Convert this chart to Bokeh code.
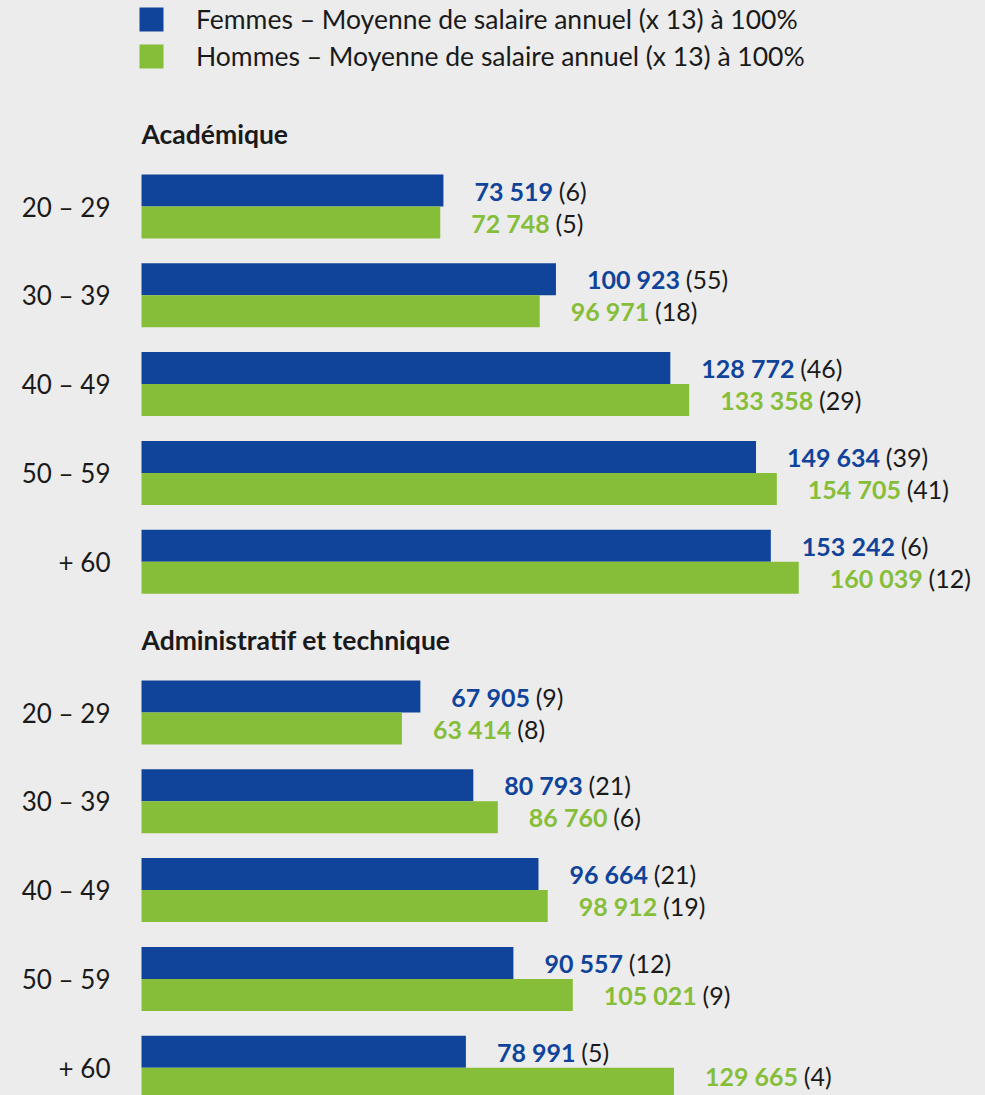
from bokeh.plotting import figure
from bokeh.models import ColumnDataSource, Range1d, Legend, LegendItem, GlobalInlineStyleSheet
from bokeh.core.properties import value
from bokeh.embed import file_html
from bokeh.resources import INLINE

# ---------------- data ----------------
age_groups = ["20 – 29", "30 – 39", "40 – 49", "50 – 59", "+ 60"]
sections = ["Académique", "Administratif et technique"]
legend_labels = [
    "Femmes – Moyenne de salaire annuel (x 13) à 100%",
    "Hommes – Moyenne de salaire annuel (x 13) à 100%",
]

acad_femmes = [73519, 100923, 128772, 149634, 153242]
acad_femmes_n = [6, 55, 46, 39, 6]
acad_hommes = [72748, 96971, 133358, 154705, 160039]
acad_hommes_n = [5, 18, 29, 41, 12]

adm_femmes = [67905, 80793, 96664, 90557, 78991]
adm_femmes_n = [9, 21, 21, 12, 5]
adm_hommes = [63414, 86760, 98912, 105021, 129665]
adm_hommes_n = [8, 6, 19, 9, 4]

# ---------------- style / layout ----------------
BG = "#ececec"
BLUE = "#10449a"
GREEN = "#86be39"
TXT = "#1a1a1a"
FONT = "Lato"

W, H = 985, 1095
X0_PX = 141          # pixel position of value 0
UPP = 243.5          # value units per pixel
BAR_H = 32
SPACING = 88.8
GROUP_FIRST = [206, 712]
TITLE_OFFSET = 73
LABEL_GAP = 31
VAL_SIZE = 25
CAT_SIZE = 26
LABEL_MAX_Y = H - 20   # labels are kept inside the canvas


def fmt(v):
    return f"{v:,}".replace(",", " ")


def bold_width(s, size):
    return sum(0.58 if ch.isdigit() else 0.193 for ch in s) * size


p = figure(
    width=W, height=H,
    x_range=Range1d(-X0_PX * UPP, (W - X0_PX) * UPP),
    y_range=Range1d(H, 0),
    toolbar_location=None, output_backend="svg",
    min_border=0, x_axis_location=None, y_axis_location=None,
    background_fill_color=BG, border_fill_color=BG, outline_line_color=None,
)
p.grid.visible = False
p.stylesheets = [GlobalInlineStyleSheet(css="body { background-color: #ececec; }")]

groups = [
    (acad_femmes, acad_femmes_n, acad_hommes, acad_hommes_n),
    (adm_femmes, adm_femmes_n, adm_hommes, adm_hommes_n),
]

legend_renderers = []
for gi, (fv, fn, hv, hn) in enumerate(groups):
    centers = [GROUP_FIRST[gi] + i * SPACING for i in range(len(age_groups))]
    for vals, ns, color, sign in ((fv, fn, BLUE, -1), (hv, hn, GREEN, 1)):
        ys = [c + sign * BAR_H / 2 for c in centers]
        labs = [fmt(v) for v in vals]
        src = ColumnDataSource(dict(
            y=ys, ly=[min(y, LABEL_MAX_Y) for y in ys], v=vals, lab=labs,
            n=[f"({n})" for n in ns],
            noff=[LABEL_GAP + bold_width(l, VAL_SIZE) + 7 for l in labs],
        ))
        r = p.hbar(y="y", left=0, right="v", height=BAR_H, source=src,
                   fill_color=color, line_color=None)
        if gi == 0:
            legend_renderers.append(r)
        p.text(x="v", y="ly", text="lab", source=src, x_offset=LABEL_GAP,
               text_align="left", text_baseline="middle",
               text_font=value(FONT), text_font_style="bold",
               text_font_size=f"{VAL_SIZE}px", text_color=color)
        p.text(x="v", y="ly", text="n", source=src, x_offset="noff",
               text_align="left", text_baseline="middle",
               text_font=value(FONT), text_font_size=f"{VAL_SIZE}px",
               text_color=TXT)
    p.text(x=0, y=centers, text=age_groups, x_offset=-LABEL_GAP,
           text_align="right", text_baseline="middle",
           text_font=value(FONT), text_font_size=f"{CAT_SIZE}px", text_color=TXT)
    p.text(x=[0], y=[GROUP_FIRST[gi] - TITLE_OFFSET], text=[sections[gi]],
           text_align="left", text_baseline="middle",
           text_font=value(FONT), text_font_style="bold",
           text_font_size="26.5px", text_color=TXT)

legend = Legend(
    items=[LegendItem(label=legend_labels[i], renderers=[legend_renderers[i]]) for i in range(2)],
    location=(136, H - 72), orientation="vertical",
    glyph_width=30, glyph_height=30, spacing=5, padding=0, margin=0,
    label_standoff=30, label_text_font=FONT, label_text_font_size="26.5px",
    label_text_color=TXT, background_fill_alpha=0, border_line_alpha=0,
)
p.add_layout(legend)

open("out.html", "w").write(file_html(p, INLINE))
